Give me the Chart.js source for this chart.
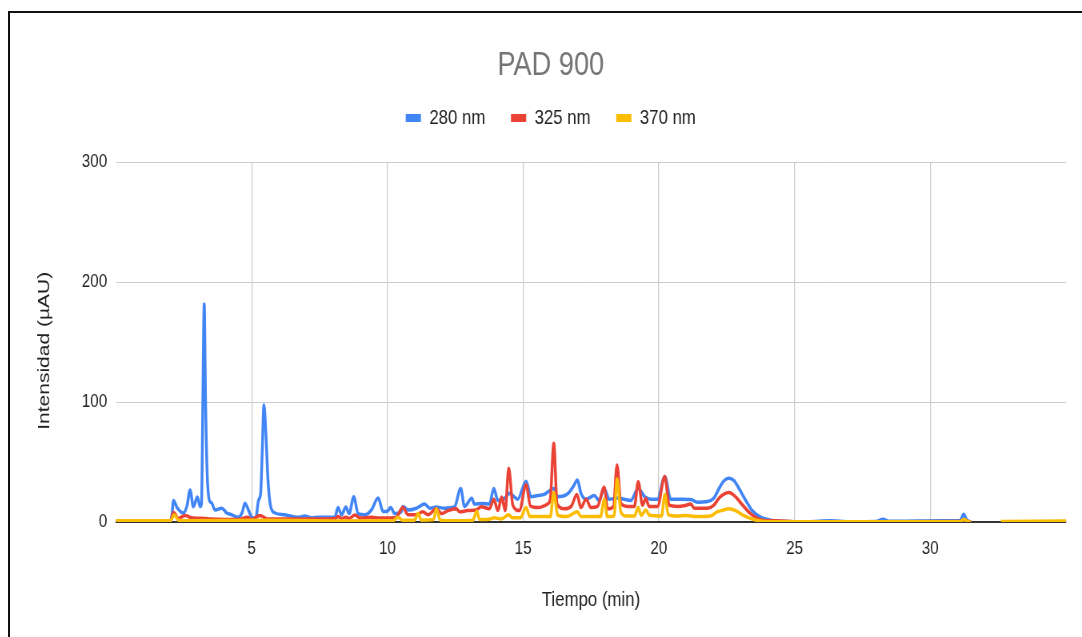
<!DOCTYPE html>
<html lang="es">
<head>
    <meta charset="UTF-8">
    <title>PAD 900</title>
    <script src="https://cdn.jsdelivr.net/npm/chart.js"></script>
    <style>
        html, body {
            margin: 0;
            padding: 0;
            background: #fff;
            overflow: hidden;
        }
        .frame {
            position: absolute;
            left: 8px;
            top: 11px;
            width: 1100px;
            height: 700px;
            border: 2px solid #111;
        }
        /* el original esta comprimido en horizontal (~0.8) */
        .wrap {
            position: absolute;
            left: 10px;
            top: 14px;
            width: 1352px;
            height: 623px;
            transform: scaleX(0.8);
            transform-origin: 0 0;
        }
    </style>
</head>
<body>
    <div class="frame"></div>
    <div class="wrap"><canvas id="chart"></canvas></div>

    <script>
        const t280 = [0, 2.0, 2.06, 2.12, 2.25, 2.49, 2.62, 2.73, 2.85, 3.0, 3.1, 3.15, 3.2, 3.25, 3.3, 3.36, 3.44, 3.52, 3.65, 3.9, 4.08, 4.26, 4.51, 4.65, 4.75, 4.88, 5.0, 5.15, 5.25, 5.33, 5.39, 5.45, 5.52, 5.6, 5.7, 5.86, 6.22, 6.71, 6.96, 7.2, 7.45, 8.06, 8.18, 8.31, 8.47, 8.59, 8.76, 8.92, 9.17, 9.41, 9.66, 9.84, 10.0, 10.12, 10.27, 10.51, 10.57, 10.76, 11.07, 11.37, 11.56, 11.8, 12.1, 12.47, 12.7, 12.84, 13.11, 13.2, 13.51, 13.76, 13.92, 14.07, 14.38, 14.47, 14.62, 14.8, 15.11, 15.29, 15.54, 15.78, 15.97, 16.13, 16.27, 16.64, 16.86, 17.0, 17.13, 17.32, 17.62, 17.8, 17.99, 18.17, 18.46, 18.72, 18.97, 19.24, 19.48, 19.7, 19.95, 20.22, 20.44, 20.81, 21.18, 21.42, 21.79, 22.03, 22.22, 22.4, 22.58, 22.77, 22.95, 23.2, 23.44, 23.75, 24.12, 24.6, 25.5, 26.3, 27.0, 28.0, 28.26, 28.5, 29.5, 30.5, 31.1, 31.23, 31.35, 31.5];
        const v280 = [1, 1, 6, 18, 12, 7.5, 14, 26.7, 12.8, 20.8, 12.8, 15, 100, 181.7, 100, 40, 18, 16, 10, 11.5, 7.5, 6, 4, 8, 15.6, 10, 4, 3.3, 18, 24, 60, 97.5, 75, 35, 12.8, 7.5, 6, 4, 5, 3.5, 4, 4, 12, 6, 12.5, 7, 21, 7, 6, 10, 20, 8.7, 9, 12, 7, 8.5, 13, 10, 11.5, 15, 11.5, 12.5, 11.5, 12.5, 28, 13, 19.7, 15, 15.5, 15, 28, 18, 21, 24, 22, 19, 34, 21, 22, 23, 26, 28, 21, 23.5, 30, 35, 24, 19, 22, 18, 28, 19, 20, 19, 18, 28, 21, 19, 19, 38, 19, 19, 18.7, 16.5, 17, 20, 28, 34.4, 36.5, 34.5, 28, 18, 9.5, 4, 1.5, 0.5, 0.3, 1, 0.3, 0.5, 2.2, 0.6, 0.8, 1, 1.2, 6.4, 1.5, 0.3];

        const t325 = [0, 2.0, 2.12, 2.3, 2.55, 2.78, 3.25, 3.5, 4.5, 4.85, 5.0, 5.3, 5.6, 6.5, 8.06, 8.18, 8.31, 8.47, 8.6, 8.8, 9.0, 9.41, 9.7, 10.3, 10.57, 10.76, 11.07, 11.3, 11.5, 11.8, 12.0, 12.23, 12.54, 12.66, 12.96, 13.27, 13.46, 13.76, 13.92, 14.07, 14.21, 14.34, 14.47, 14.62, 14.86, 15.11, 15.27, 15.54, 15.9, 16.0, 16.13, 16.25, 16.52, 16.77, 16.98, 17.13, 17.32, 17.5, 17.74, 17.99, 18.11, 18.33, 18.46, 18.6, 18.85, 19.1, 19.24, 19.4, 19.52, 19.64, 19.95, 20.22, 20.38, 20.69, 20.93, 21.18, 21.3, 21.79, 22.03, 22.22, 22.4, 22.58, 22.83, 23.07, 23.38, 23.75, 24.2, 25.0, 28.0, 31.1, 31.25, 31.4, 31.5];
        const v325 = [0.5, 0.5, 8, 3, 5.5, 3.5, 3, 2.5, 2, 4, 2, 5.5, 2.5, 2.5, 2.8, 4.5, 3, 4, 3, 5.8, 3.3, 4, 3.3, 3.5, 12, 6, 6, 8.5, 6, 11, 7, 9.5, 11, 8.5, 9.5, 10, 12.7, 11, 19, 9.5, 20.8, 9.5, 44.7, 14, 9.5, 31, 13.3, 12, 15, 19, 65.6, 15, 11, 13, 23, 12, 19, 12, 13, 29, 11, 13, 47.5, 15.5, 13, 13, 33.6, 14, 19.5, 13, 13, 38, 14, 13, 13.5, 15, 11.5, 11.5, 14, 20, 23.3, 24.5, 21, 14.5, 7, 2, 1, 0.3, 0.3, 0.5, 2, 0.3, 0];

        const t370 = [0, 2.0, 2.15, 2.3, 2.6, 5.3, 8.0, 10.2, 10.39, 10.55, 11.0, 11.13, 11.25, 11.7, 11.8, 11.95, 12.5, 13.15, 13.29, 13.4, 13.8, 13.92, 14.2, 14.47, 14.6, 14.9, 15.11, 15.25, 16.0, 16.13, 16.27, 16.6, 17.0, 17.13, 17.85, 17.99, 18.1, 18.35, 18.46, 18.6, 18.8, 19.1, 19.24, 19.35, 19.52, 19.65, 20.1, 20.22, 20.35, 20.69, 21.0, 21.4, 21.9, 22.15, 22.3, 22.58, 22.83, 23.12, 23.44, 23.75, 24.2, 28.0, 31.1, 31.25, 31.4, 31.5, 32.0, 32.6, 35.0];
        const v370 = [1, 1, 6, 1.5, 1, 1.5, 0.8, 1, 4, 1.5, 1.5, 7, 1.5, 2, 11, 1.5, 1, 1.5, 9, 2, 2.5, 3.5, 2.5, 6, 3.5, 3.5, 12, 4.5, 4.5, 24.5, 5.8, 4.5, 8.5, 4.5, 4.5, 19, 4.5, 5, 36, 8.5, 5, 5, 12, 5.5, 10, 5.8, 5, 23, 6, 5, 5.5, 4.5, 5, 8.5, 9.5, 11, 9.5, 5.5, 2.5, 0.8, 0.3, 0.3, 0.3, 2, 0.3, 0, null, 0.5, 0.8];

        const seriesNames = ["280 nm", "325 nm", "370 nm"];
        const seriesColors = ["#4285F4", "#EA4335", "#FBBC04"];
        const xTicks = [5, 10, 15, 20, 25, 30];
        const yTicks = [0, 100, 200, 300];

        function toPoints(ts, vs) {
            return ts.map((t, i) => ({ x: t, y: vs[i] }));
        }

        Chart.defaults.font.family = "'Liberation Sans', Arial, sans-serif";
        Chart.defaults.color = "#222";

        const allData = [toPoints(t280, v280), toPoints(t325, v325), toPoints(t370, v370)];

        const ctx = document.getElementById("chart").getContext("2d");
        new Chart(ctx, {
            type: "line",
            data: {
                datasets: seriesNames.map((name, i) => ({
                    label: name,
                    data: allData[i],
                    borderColor: seriesColors[i],
                    backgroundColor: seriesColors[i],
                    borderWidth: 3.5,
                    pointRadius: 0,
                    cubicInterpolationMode: "monotone",
                    spanGaps: false,
                    order: 3 - i // amarillo encima
                }))
            },
            options: {
                responsive: true,
                maintainAspectRatio: false,
                animation: false,
                layout: { padding: 0 },
                plugins: {
                    title: {
                        display: true,
                        text: "PAD 900",
                        color: "#757575",
                        font: { size: 34, weight: "normal" },
                        padding: { top: 31.6, bottom: -10.9 }
                    },
                    legend: {
                        display: true,
                        labels: {
                            boxWidth: 19,
                            boxHeight: 8,
                            padding: 32,
                            color: "#222",
                            font: { size: 21 },
                            sort: (a, b) => a.datasetIndex - b.datasetIndex,
                            generateLabels: chart => Chart.defaults.plugins.legend.labels
                                .generateLabels(chart).map(l => ({ ...l, lineWidth: 0 }))
                        }
                    },
                    tooltip: { enabled: false }
                },
                scales: {
                    x: {
                        type: "linear",
                        min: 0,
                        max: 35,
                        afterBuildTicks: s => { s.ticks = xTicks.map(v => ({ value: v })); },
                        afterFit: s => { s.height = 115; },
                        grid: { color: "#cccccc", lineWidth: 1.25, drawTicks: false },
                        border: { color: "#333", width: 2 },
                        ticks: { padding: 15, font: { size: 19 }, color: "#222" },
                        title: {
                            display: true,
                            text: "Tiempo (min)",
                            font: { size: 21 },
                            color: "#222",
                            padding: { top: 0, bottom: 24.4 }
                        }
                    },
                    y: {
                        min: 0,
                        max: 300,
                        afterBuildTicks: s => { s.ticks = yTicks.map(v => ({ value: v })); },
                        afterFit: s => { s.width = 132.5; },
                        grid: { color: "#cccccc", drawTicks: false },
                        border: { display: false },
                        ticks: { padding: 11, font: { size: 19 }, color: "#222" },
                        title: {
                            display: true,
                            text: "Intensidad (µAU)   ",
                            font: { size: 21 },
                            color: "#222",
                            padding: { top: 31, bottom: 0 }
                        }
                    },
                    // ejes vacios solo para dejar el hueco del original
                    gapTop: {
                        type: "linear",
                        position: "top",
                        display: true,
                        grid: { display: false },
                        border: { display: false },
                        ticks: { display: false },
                        afterFit: s => { s.height = 23.5; }
                    },
                    gapRight: {
                        type: "linear",
                        position: "right",
                        display: true,
                        grid: { display: false },
                        border: { display: false },
                        ticks: { display: false },
                        afterFit: s => { s.width = 32; }
                    }
                }
            }
        });
    </script>
</body>
</html>
